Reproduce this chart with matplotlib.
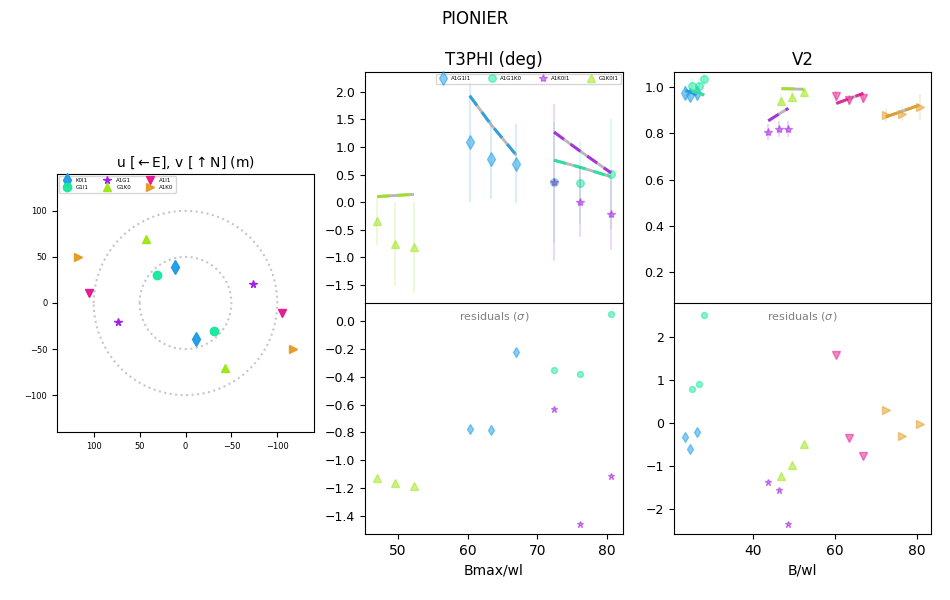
import numpy as np
import matplotlib
matplotlib.use("Agg")
import matplotlib.pyplot as plt

W, H = 950, 600

# u,v baselines
uv_names = ["K0I1", "G1I1", "A1G1", "G1K0", "A1I1", "A1K0"]
uv_u = [11, 31, 73.5, 43, 105, 117.5]
uv_v = [39, 30, -21, 70, 11, 50]
uv_markers = ["d", "o", "*", "^", "v", ">"]
uv_colors = ["#1a9be6", "#14e89b", "#a31ae6", "#9be614", "#e6148f", "#e6991f"]
radii = [50, 100]

# T3PHI
t3_names = ["A1G1I1", "A1G1K0", "A1K0I1", "G1K0I1"]
t3_markers = ["d", "o", "*", "^"]
t3_colors = ["#1a9be6", "#14e89b", "#a31ae6", "#9be614"]
t3_x = [[60.3, 63.4, 67.0], [72.4, 76.2, 80.6], [72.4, 76.2, 80.6], [47.0, 49.6, 52.3]]
t3_y = [[1.09, 0.78, 0.70], [0.36, 0.35, 0.51], [0.36, 0.0, -0.22], [-0.35, -0.76, -0.82]]
t3_err = [[1.09, 0.72, 0.72], [1.1, 0.74, 1.0], [1.42, 0.63, 0.65], [0.42, 0.76, 0.83]]
t3_model = [[1.93, 1.40, 0.85], [0.76, 0.63, 0.46], [1.27, 0.92, 0.53], [0.10, 0.12, 0.14]]
t3_res = [[-0.775, -0.78, -0.225], [-0.355, -0.38, 0.05], [-0.635, -1.46, -1.115], [-1.13, -1.165, -1.185]]

# V2
v2_markers = ["d", "o", "*", "^", "v", ">"]
v2_colors = uv_colors
v2_x = [[23.5, 24.7, 26.2], [25.2, 26.7, 28.1], [43.7, 46.2, 48.6],
        [46.9, 49.6, 52.3], [60.3, 63.5, 66.9], [72.4, 76.3, 80.6]]
v2_y = [[0.973, 0.967, 0.973], [1.003, 1.004, 1.033], [0.804, 0.817, 0.817],
        [0.941, 0.958, 0.977], [0.961, 0.944, 0.951], [0.877, 0.882, 0.915]]
v2_err = [[0.03, 0.03, 0.03], [0.03, 0.03, 0.03], [0.035, 0.035, 0.035],
          [0.025, 0.025, 0.025], [0.02, 0.02, 0.02], [0.03, 0.03, 0.056]]
v2_model = [[0.985, 0.978, 0.967], [0.982, 0.975, 0.965], [0.854, 0.882, 0.908],
            [0.993, 0.992, 0.990], [0.929, 0.950, 0.973], [0.871, 0.895, 0.922]]
v2_res = [[-0.33, -0.61, -0.22], [0.8, 0.9, 2.52], [-1.37, -1.55, -2.35],
          [-1.24, -0.97, -0.49], [1.58, -0.34, -0.76], [0.3, -0.3, -0.03]]

main_size = {"d": 6.8, "o": 5.5, "*": 6, "^": 6, "v": 6, ">": 6}
res_size = {"d": 5.2, "o": 4.3, "*": 4.5, "^": 5.2, "v": 5.2, ">": 5.2}
uv_size = {"d": 7.2, "o": 6, "*": 5.5, "^": 5.5, "v": 5.5, ">": 5.5}


def box(x0, y0, x1, y1):
    return [x0 / W, 1 - y1 / H, (x1 - x0) / W, (y1 - y0) / H]


fig = plt.figure(figsize=(9.5, 6), dpi=100)
fig.suptitle("PIONIER", fontsize=12, x=0.5, y=0.983)

# ---- u,v panel
ax = fig.add_axes(box(57, 174, 314, 432))
th = np.linspace(0, 2 * np.pi, 200)
for r in radii:
    ax.plot(r * np.cos(th), r * np.sin(th), ":", color="0.78", lw=1.5)
for n, u, v, m, c in zip(uv_names, uv_u, uv_v, uv_markers, uv_colors):
    ax.plot([u], [v], m, color=c, ms=uv_size[m], label=n, alpha=0.95, ls="none")
    ax.plot([-u], [-v], m, color=c, ms=uv_size[m], alpha=0.95, ls="none")
ax.set_xlim(140, -140)
ax.set_ylim(-140, 140)
ax.set_xticks([100, 50, 0, -50, -100])
ax.set_yticks([100, 50, 0, -50, -100])
ax.tick_params(labelsize=6)
ax.set_title(r"u [$\leftarrow$E], v [$\uparrow$N] (m)", fontsize=10, pad=5)
ax.legend(loc="upper left", ncol=3, fontsize=4, borderaxespad=0.35, handletextpad=0.6,
          columnspacing=2.4, labelspacing=0.4)


def model_line(a, x, y, c):
    a.plot(x, y, "-", color="0.72", lw=2.1, solid_capstyle="butt")
    a.plot(x, y, color=c, lw=2.1, alpha=0.85, dashes=(4.2, 2.8), dash_capstyle="butt")


def resid_text(a):
    a.text(0.5, 0.97, r"residuals ($\sigma$)", transform=a.transAxes, ha="center", va="top",
           fontsize=8, color="0.5")


# ---- T3PHI panels
a1 = fig.add_axes(box(365, 72, 623, 303))
a2 = fig.add_axes(box(365, 303, 623, 534))
for i in range(4):
    c, m = t3_colors[i], t3_markers[i]
    model_line(a1, t3_x[i], t3_model[i], c)
    a1.errorbar(t3_x[i], t3_y[i], yerr=t3_err[i], fmt="none", ecolor=c, elinewidth=1.1, alpha=0.22)
    a1.plot(t3_x[i], t3_y[i], m, color=c, ms=main_size[m], alpha=0.5, label=t3_names[i], ls="none")
    a2.plot(t3_x[i], t3_res[i], m, color=c, ms=res_size[m], alpha=0.5, ls="none")
a1.set_xlim(45.27, 82.3)
a1.set_ylim(-1.83, 2.36)
a1.set_yticks([-1.5, -1.0, -0.5, 0.0, 0.5, 1.0, 1.5, 2.0])
a1.set_xticks([])
a1.tick_params(labelsize=9)
a1.spines["bottom"].set_color("0.85")
a1.set_title("T3PHI (deg)", fontsize=12, pad=5)
a1.legend(loc="upper right", ncol=4, fontsize=4, borderaxespad=0.3, handletextpad=0.6,
          columnspacing=2.9, borderpad=0.45, handlelength=1.7, bbox_to_anchor=(1.0, 1.0))
a2.set_xlim(45.27, 82.3)
a2.set_ylim(-1.53, 0.13)
a2.set_xticks([50, 60, 70, 80])
a2.set_yticks([0.0, -0.2, -0.4, -0.6, -0.8, -1.0, -1.2, -1.4])
a2.tick_params(axis="y", labelsize=9)
a2.tick_params(axis="x", labelsize=10)
a2.set_xlabel("Bmax/wl", fontsize=10)
resid_text(a2)

# ---- V2 panels
b1 = fig.add_axes(box(674, 72, 931, 303))
b2 = fig.add_axes(box(674, 303, 931, 534))
for i in range(6):
    c, m = v2_colors[i], v2_markers[i]
    model_line(b1, v2_x[i], v2_model[i], c)
    b1.errorbar(v2_x[i], v2_y[i], yerr=v2_err[i], fmt="none", ecolor=c, elinewidth=1.1, alpha=0.22)
    b1.plot(v2_x[i], v2_y[i], m, color=c, ms=main_size[m], alpha=0.5, ls="none")
    b2.plot(v2_x[i], v2_res[i], m, color=c, ms=res_size[m], alpha=0.5, ls="none")
b1.set_xlim(20.7, 83.4)
b1.set_ylim(0.066, 1.065)
b1.set_yticks([0.2, 0.4, 0.6, 0.8, 1.0])
b1.set_xticks([])
b1.tick_params(labelsize=9)
b1.spines["bottom"].set_color("0.85")
b1.set_title("V2", fontsize=12, pad=5)
b2.set_xlim(20.7, 83.4)
b2.set_ylim(-2.58, 2.79)
b2.set_xticks([40, 60, 80])
b2.set_yticks([-2, -1, 0, 1, 2])
b2.tick_params(axis="y", labelsize=9)
b2.tick_params(axis="x", labelsize=10)
b2.set_xlabel("B/wl", fontsize=10)
resid_text(b2)

fig.savefig("out.png", dpi=100)
